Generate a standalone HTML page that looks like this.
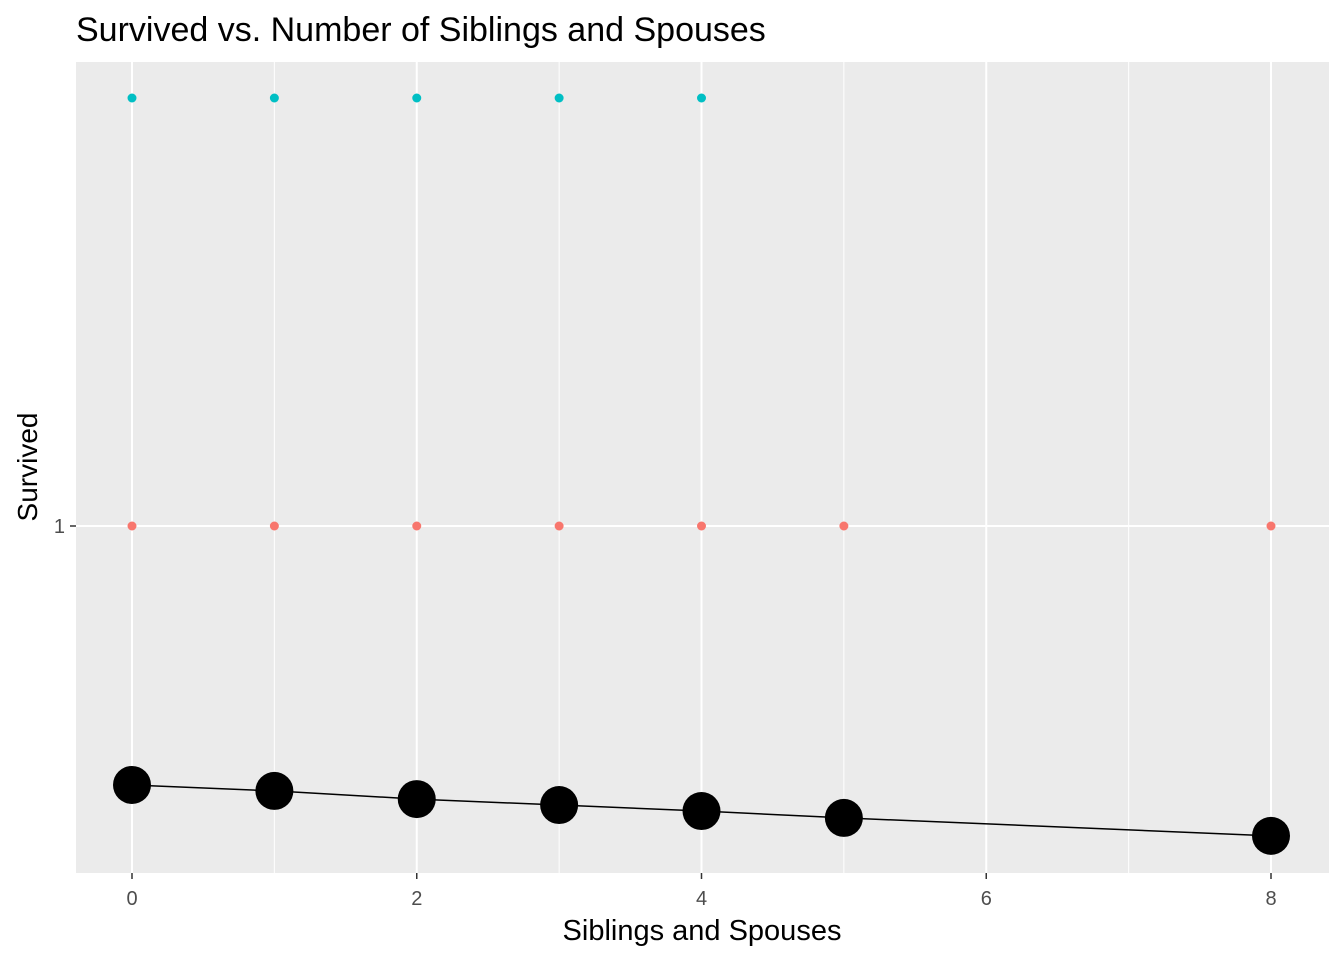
<!DOCTYPE html>
<html><head><meta charset="utf-8"><style>
body{margin:0;background:#fff;}
svg text{font-family:"Liberation Sans",sans-serif;}
</style></head><body>
<svg width="1344" height="960" xmlns="http://www.w3.org/2000/svg">
<text x="76" y="41" font-size="34" fill="#000">Survived vs. Number of Siblings and Spouses</text>
<rect x="76" y="62" width="1253" height="811" fill="#ebebeb"/>
<g id="grid"></g>
<g id="marks"></g>
<g id="axes"></g>
<text x="702" y="940" font-size="29" text-anchor="middle" fill="#000">Siblings and Spouses</text>
<text transform="translate(37,467) rotate(-90)" font-size="28" text-anchor="middle" fill="#000">Survived</text>
<script>
const xTicks=[0,2,4,6,8];
const xMinor=[1,3,5,7];
const yTicks=[1];
const redX=[0,1,2,3,4,5,8];
const redY=[1,1,1,1,1,1,1];
const cyanX=[0,1,2,3,4];
const cyanY=[2,2,2,2,2];
const meanX=[0,1,2,3,4,5,8];
const meanY=[0.395,0.381,0.362,0.348,0.334,0.318,0.276];
const NS="http://www.w3.org/2000/svg";
function sx(v){return 132+v*142.375;}
function sy(v){return 526-(v-1)*428;}
function mk(tag,attrs,parent){const e=document.createElementNS(NS,tag);for(const k in attrs)e.setAttribute(k,attrs[k]);document.getElementById(parent).appendChild(e);return e;}
xMinor.forEach(v=>{const l=mk('line',{x1:sx(v),x2:sx(v),y1:62,y2:873,stroke:'#fff','stroke-width':1},'grid');

});
xTicks.forEach(v=>{const l=mk('line',{x1:sx(v),x2:sx(v),y1:62,y2:873,stroke:'#fff','stroke-width':2},'grid');


const t=mk('line',{x1:sx(v),x2:sx(v),y1:873,y2:879,stroke:'#333','stroke-width':1.5},'axes');


const tx=mk('text',{x:sx(v),y:905,'font-size':20,'text-anchor':'middle',fill:'#4d4d4d'},'axes');tx.textContent=v;

});
yTicks.forEach(v=>{const l=mk('line',{x1:76,x2:1329,y1:sy(v),y2:sy(v),stroke:'#fff','stroke-width':2},'grid');


const t=mk('line',{x1:70,x2:76,y1:sy(v),y2:sy(v),stroke:'#333','stroke-width':1.5},'axes');


const tx=mk('text',{x:65,y:sy(v)+7,'font-size':20,'text-anchor':'end',fill:'#4d4d4d'},'axes');tx.textContent=v;

});
redX.forEach((v,i)=>{const c=mk('circle',{cx:sx(v),cy:sy(redY[i]),r:4.5,fill:'#f8766d'},'marks');

});
cyanX.forEach((v,i)=>{const c=mk('circle',{cx:sx(v),cy:sy(cyanY[i]),r:4.5,fill:'#00bfc4'},'marks');

});
const pl=mk('polyline',{points:meanX.map((v,i)=>sx(v)+','+sy(meanY[i])).join(' '),fill:'none',stroke:'#000','stroke-width':1.5},'marks');


meanX.forEach((v,i)=>{const c=mk('circle',{cx:sx(v),cy:sy(meanY[i]),r:19,fill:'#000'},'marks');

});
</script>
</svg>
</body></html>
